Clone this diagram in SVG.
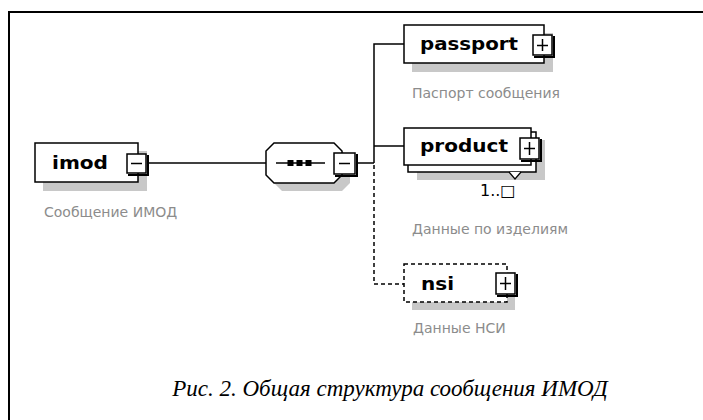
<svg xmlns="http://www.w3.org/2000/svg" width="703" height="420" viewBox="0 0 703 420">
<style>
.box{fill:#fff;stroke:#000;stroke-width:1.5}
.dbox{fill:#fff;stroke:#000;stroke-width:1.5;stroke-dasharray:4 3}
.shadow{fill:#c8c8c8}
.btn{fill:#fff;stroke:#000;stroke-width:1.5}
.btnsh{fill:none;stroke:#000;stroke-width:2}
.sym{stroke:#000;stroke-width:1.5;fill:none}
.name{font-family:"DejaVu Sans",sans-serif;font-weight:bold;font-size:18px;fill:#000}
.doc{font-family:"DejaVu Sans",sans-serif;font-size:14px;fill:#8c8c8c}
.conn{stroke:#000;stroke-width:1.5;fill:none}
.dash{stroke:#000;stroke-width:1.5;fill:none;stroke-dasharray:4 3}
</style>
<rect x="0" y="0" width="703" height="420" fill="#fff"/>
<line x1="8" y1="12" x2="703" y2="12" stroke="#000" stroke-width="2"/>
<line x1="9" y1="12" x2="9" y2="420" stroke="#000" stroke-width="2"/>

<g id="connectors">
  <line class="conn" x1="148" y1="163" x2="266" y2="163"/>
  <line class="conn" x1="357" y1="163" x2="374" y2="163"/>
  <polyline class="conn" points="374,163 374,44 404,44"/>
  <line class="conn" x1="374" y1="146" x2="404" y2="146"/>
  <polyline class="dash" points="374,165 374,284 404,284"/>
</g>

<g id="imod">
  <rect class="shadow" x="43" y="151" width="104" height="40"/>
  <rect class="box" x="35" y="143" width="103" height="39"/>
  <text class="name" x="52" y="169" textLength="56" lengthAdjust="spacingAndGlyphs">imod</text>
  <rect class="btn" x="127" y="154" width="19" height="19"/>
  <polyline class="btnsh" points="148,155 148,175 128,175"/>
  <line class="sym" x1="131" y1="163.5" x2="142" y2="163.5"/>
  <text class="doc" x="44" y="217">Сообщение ИМОД</text>
</g>

<g id="sequence">
  <polygon class="shadow" points="282,151 342,151 350,159 350,183 342,191 282,191 274,183 274,159"/>
  <polygon class="box" points="274,143 334,143 342,151 342,175 334,183 274,183 266,175 266,151"/>
  <line class="sym" x1="276" y1="163" x2="325" y2="163"/>
  <rect x="287.5" y="160" width="6" height="6" fill="#000"/>
  <rect x="296.5" y="160" width="6" height="6" fill="#000"/>
  <rect x="305.5" y="160" width="6" height="6" fill="#000"/>
  <rect class="btn" x="334" y="153" width="21" height="21"/>
  <polyline class="btnsh" points="357,154 357,176 335,176"/>
  <line class="sym" x1="339" y1="163.5" x2="350" y2="163.5"/>
</g>

<g id="passport">
  <rect class="shadow" x="412" y="33" width="141" height="39"/>
  <rect class="box" x="404" y="25" width="140" height="38"/>
  <text class="name" x="420" y="50" textLength="98" lengthAdjust="spacingAndGlyphs">passport</text>
  <rect class="btn" x="533" y="35" width="19" height="20"/>
  <polyline class="btnsh" points="554,36 554,57 534,57"/>
  <line class="sym" x1="537" y1="45.5" x2="548" y2="45.5"/>
  <line class="sym" x1="542.5" y1="39" x2="542.5" y2="51"/>
  <text class="doc" x="412" y="98">Паспорт сообщения</text>
</g>

<g id="product">
  <rect class="shadow" x="417" y="140" width="128" height="40"/>
  <rect class="box" x="408" y="132" width="128" height="40"/>
  <rect class="box" x="404" y="128" width="127" height="37"/>
  <text class="name" x="420" y="152" textLength="88" lengthAdjust="spacingAndGlyphs">product</text>
  <rect class="btn" x="520" y="138" width="19" height="21"/>
  <polyline class="btnsh" points="541,139 541,161 521,161"/>
  <line class="sym" x1="524" y1="148.5" x2="535" y2="148.5"/>
  <line class="sym" x1="529.5" y1="142" x2="529.5" y2="155"/>
  <polyline fill="#fff" stroke="#000" stroke-width="1.2" points="509,172 515,179 521,172"/>
  <text font-family="DejaVu Sans, sans-serif" font-size="16" fill="#000" x="480" y="196">1..□</text>
  <text class="doc" x="412" y="234">Данные по изделиям</text>
</g>

<g id="nsi">
  <rect class="shadow" x="412" y="272" width="103" height="38"/>
  <rect class="dbox" x="404" y="264" width="103" height="38"/>
  <text class="name" x="421" y="290" textLength="33" lengthAdjust="spacingAndGlyphs">nsi</text>
  <rect class="btn" x="496" y="273" width="19" height="21"/>
  <polyline class="btnsh" points="517,274 517,296 497,296"/>
  <line class="sym" x1="500" y1="283.5" x2="511" y2="283.5"/>
  <line class="sym" x1="505.5" y1="277" x2="505.5" y2="290"/>
  <text class="doc" x="413" y="333">Данные НСИ</text>
</g>

<text x="390" y="396" text-anchor="middle" font-family="Liberation Serif, serif" font-style="italic" font-size="23" fill="#000">Рис. 2. Общая структура сообщения ИМОД</text>
</svg>
